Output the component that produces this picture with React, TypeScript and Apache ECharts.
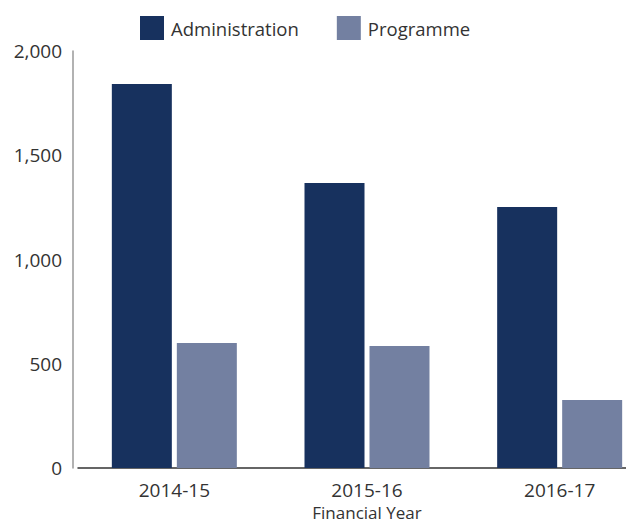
import React, { useEffect, useRef } from "react";
import * as echarts from "echarts";

const categories = ["2014-15", "2015-16", "2016-17"];
const administration = [1842, 1367, 1252];
const programme = [600, 585, 326];
const yTicks = [0, 500, 1000, 1500, 2000];

const FONT = "'Open Sans', 'Noto Sans', sans-serif";

export default function App() {
  const ref = useRef<HTMLDivElement>(null);
  useEffect(() => {
    if (!ref.current) return;
    const chart = echarts.init(ref.current, undefined, { renderer: "svg" });
    chart.setOption({
      animation: false,
      textStyle: { fontFamily: FONT, color: "#333" },
      legend: {
        top: 16,
        left: 140,
        padding: 0,
        itemWidth: 24,
        itemHeight: 24,
        itemGap: 38,
        icon: "rect",
        textStyle: { fontFamily: FONT, fontSize: 18.5, color: "#333", padding: [0, 0, 0, 2] },
        data: ["Administration", "Programme"],
      },
      grid: { left: 78, top: 51, bottom: 56, right: -30, outerBoundsMode: "none", containLabel: false },
      xAxis: {
        type: "category",
        data: categories,
        name: "Financial Year",
        nameLocation: "middle",
        nameGap: 36,
        nameTextStyle: { fontFamily: FONT, fontSize: 17, color: "#333" },
        axisLine: { lineStyle: { color: "#333", width: 1.5 } },
        axisTick: { show: false },
        axisLabel: { fontFamily: FONT, fontSize: 19, color: "#333", margin: 12 },
      },
      yAxis: {
        type: "value",
        min: 0,
        max: 2000,
        interval: 500,
        offset: 5,
        axisLine: { show: true, lineStyle: { color: "#999", width: 1.5 } },
        axisTick: { show: false },
        splitLine: { show: false },
        axisLabel: {
          fontFamily: FONT,
          fontSize: 19,
          color: "#333",
          margin: 11,
          formatter: (v: number) => (yTicks.includes(v) ? v.toLocaleString("en-US") : ""),
        },
      },
      series: [
        {
          name: "Administration",
          type: "bar",
          data: administration,
          barWidth: 60,
          barGap: "8.33%",
          itemStyle: { color: "#17315e" },
        },
        {
          name: "Programme",
          type: "bar",
          data: programme,
          barWidth: 60,
          itemStyle: { color: "#7380a1" },
        },
      ],
    });
    return () => chart.dispose();
  }, []);
  return (
    <div
      ref={ref}
      style={{ position: "absolute", left: 0, top: 0, width: 626, height: 524, background: "#fff" }}
    />
  );
}
